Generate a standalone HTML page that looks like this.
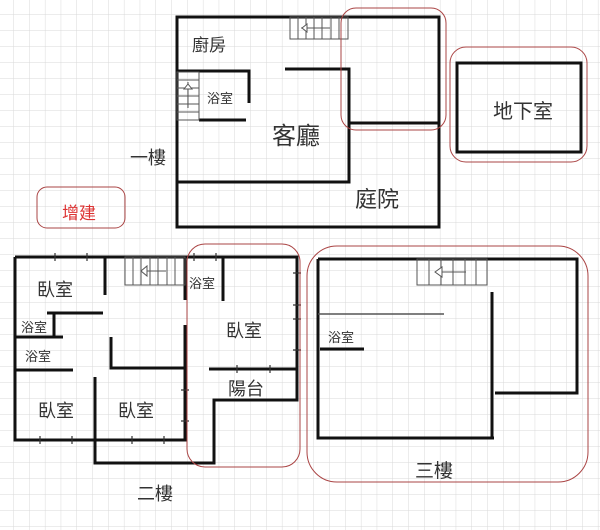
<!DOCTYPE html>
<html><head><meta charset="utf-8"><style>
html,body{margin:0;padding:0;background:#fff;}
svg{display:block;}
text{font-family:"Liberation Sans","Noto Sans CJK TC",sans-serif;fill:#333;}
</style></head><body>
<svg width="600" height="530" viewBox="0 0 600 530" xmlns="http://www.w3.org/2000/svg">
<defs>
<pattern id="g" x="13.3" y="14.5" width="15.8" height="16" patternUnits="userSpaceOnUse">
<path d="M0 0V16M0 0H15.8" stroke="#d9d9d9" stroke-width="1" fill="none"/>
</pattern>
</defs>
<rect width="600" height="530" fill="#fff"/>
<rect width="600" height="530" fill="url(#g)"/>

<g fill="none" stroke="#111" stroke-width="3">
<!-- floor 1 -->
<rect x="177" y="17" width="262" height="210"/>
<path d="M177 71H249V103"/>
<path d="M199 120H246"/>
<path d="M285 69H349V182H177"/>
<path d="M349 123H440"/>
<!-- basement -->
<rect x="457" y="63" width="124" height="89"/>
<!-- floor 2 -->
<path d="M15 257H297V400H214V463H95V377"/>
<path d="M15 257V440H185V325M185 300V257"/>
<path d="M105 257V295"/>
<path d="M47 313H103M54 313V337M15 337H63"/>
<path d="M15 370H73"/>
<path d="M111 337V368H185"/>
<path d="M223 257V301"/>
<path d="M209 369H297"/>
<!-- floor 3 -->
<path d="M318 259H577V393H495"/>
<path d="M318 259V438H494M492 292V438"/>
<path d="M320 349H364"/>
</g>
<path d="M318 314H444" stroke="#555" stroke-width="1.5"/>

<!-- ticks -->
<g stroke="#333" stroke-width="1.2">
<path d="M55 253V261M87 253V261M194 253V261M216 253V261M293 273H301M293 305H301M293 319H301M293 350H301M237 365V373M270 365V373M181 390H189M181 421H189M40 436V444M72 436V444M132 436V444M164 436V444"/>
</g>

<!-- stairs -->
<g fill="none" stroke="#555" stroke-width="1">
<rect x="290" y="17" width="58" height="22"/>
<path d="M298 17V39M306 17V39M314 17V39M322 17V39M331 17V39M339 17V39M301 28H330"/>
<path d="M302 28l5-4v8z" fill="#fff"/>
<rect x="177" y="72" width="22" height="48"/>
<path d="M177 80H199M177 88H199M177 96H199M177 104H199M177 112H199M188 82V108"/>
<path d="M188 84l-4 5h8z" fill="#fff"/>
<rect x="125" y="257" width="60" height="28"/>
<path d="M133 257V285M141 257V285M150 257V285M158 257V285M167 257V285M175 257V285M145 271H166"/>
<path d="M141 271l6-5v10z" fill="#fff"/>
<rect x="417" y="259" width="70" height="26"/>
<path d="M429 259V285M441 259V285M453 259V285M465 259V285M476 259V285M440 272H466"/>
<path d="M435 272l7-5v10z" fill="#fff"/>
</g>

<!-- red outlines -->
<g fill="none" stroke="#a44" stroke-width="1">
<rect x="341" y="8" width="105" height="122" rx="15"/>
<rect x="450" y="47" width="137" height="115" rx="16"/>
<rect x="37" y="187" width="88" height="41" rx="10"/>
<rect x="187" y="244" width="113" height="223" rx="18"/>
<rect x="307" y="246" width="281" height="236" rx="30"/>
</g>

<!-- labels -->
<text x="192" y="51" font-size="17">廚房</text>
<text x="207" y="103" font-size="13">浴室</text>
<text x="272" y="144" font-size="24">客廳</text>
<text x="355" y="207" font-size="22">庭院</text>
<text x="493" y="118" font-size="20">地下室</text>
<text x="130" y="164" font-size="18">一樓</text>
<text x="62" y="219" font-size="17" style="fill:#d33">增建</text>
<text x="37" y="296" font-size="18">臥室</text>
<text x="21" y="332" font-size="13">浴室</text>
<text x="25" y="361" font-size="13">浴室</text>
<text x="38" y="417" font-size="18">臥室</text>
<text x="118" y="417" font-size="18">臥室</text>
<text x="189" y="288" font-size="13">浴室</text>
<text x="226" y="337" font-size="18">臥室</text>
<text x="228" y="395" font-size="18">陽台</text>
<text x="137" y="500" font-size="18">二樓</text>
<text x="328" y="342" font-size="13">浴室</text>
<text x="415" y="477" font-size="19">三樓</text>
</svg>
</body></html>
